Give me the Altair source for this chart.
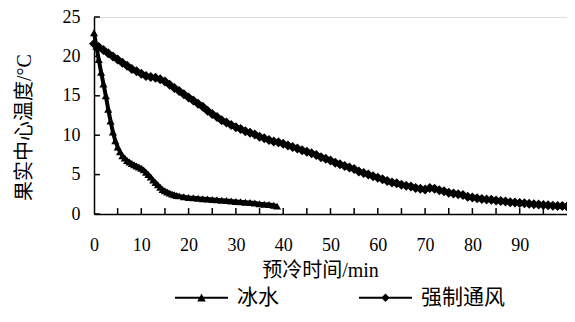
import altair as alt
import pandas as pd

# 冰水 (ice water) series
ice_t = [0, 0.5, 1.0, 1.5, 2.0, 2.5, 3.0, 3.5, 4.0, 4.5, 5.0, 5.5, 6.0, 6.5, 7.0, 7.5, 8.0,
         8.5, 9.0, 9.5, 10, 10.5, 11, 11.5, 12, 12.5, 13, 13.5, 14, 14.5, 15, 15.5, 16, 16.5,
         17, 17.5, 18, 19, 20, 21, 22, 23, 24, 25, 26, 27, 28, 29, 30, 31, 32, 33, 34, 35,
         36, 37, 38, 38.7]
ice_v = [23.0, 21.3, 19.6, 18.0, 16.5, 15.0, 13.3, 11.8, 10.4, 9.3, 8.5, 7.9, 7.4, 7.1, 6.8,
         6.6, 6.4, 6.25, 6.1, 5.95, 5.8, 5.6, 5.3, 5.0, 4.7, 4.3, 4.0, 3.7, 3.4, 3.1, 2.95, 2.8,
         2.65, 2.55, 2.45, 2.35, 2.3, 2.2, 2.1, 2.05, 2.0, 1.95, 1.9, 1.85, 1.8, 1.75, 1.7, 1.65,
         1.6, 1.55, 1.5, 1.45, 1.4, 1.3, 1.25, 1.2, 1.1, 1.0]

# 强制通风 (forced air) series
air_t = list(range(0, 101))
air_v = [21.6, 21.2, 20.8, 20.4, 20.0, 19.6, 19.2, 18.8, 18.4, 18.1,
         17.8, 17.5, 17.4, 17.3, 17.1, 16.8, 16.4, 16.0, 15.6, 15.2,
         14.8, 14.4, 14.0, 13.6, 13.1, 12.7, 12.3, 11.9, 11.6, 11.3,
         11.0, 10.8, 10.5, 10.3, 10.1, 9.8, 9.6, 9.4, 9.2, 9.1,
         8.9, 8.7, 8.5, 8.3, 8.1, 7.9, 7.7, 7.5, 7.2, 7.0,
         6.8, 6.5, 6.3, 6.1, 5.9, 5.7, 5.4, 5.2, 5.0, 4.8,
         4.6, 4.4, 4.2, 4.0, 3.9, 3.7, 3.6, 3.5, 3.3, 3.2,
         3.1, 3.3, 3.2, 3.0, 2.9, 2.7, 2.6, 2.5, 2.4, 2.2,
         2.1, 2.0, 1.9, 1.85, 1.8, 1.7, 1.65, 1.6, 1.5, 1.45,
         1.4, 1.35, 1.3, 1.25, 1.2, 1.15, 1.1, 1.05, 1.0, 1.0, 0.95]

series_names = ["冰水", "强制通风"]
x_label_values = [0, 10, 20, 30, 40, 50, 60, 70, 80, 90]
x_tick_values = [5, 10, 15, 20, 25, 30, 35, 40, 45, 50, 55, 60, 65, 70, 75, 80, 85, 90, 95]
y_tick_values = [0, 5, 10, 15, 20, 25]

ice = pd.DataFrame({"t": ice_t, "v": ice_v, "s": series_names[0]})
air = pd.DataFrame({"t": air_t, "v": air_v, "s": series_names[1]})
both = pd.concat([ice, air], ignore_index=True)

num_font = "Liberation Serif"
cjk_font = "Liberation Serif, Noto Sans CJK SC"

xs = alt.Scale(domain=[0, 100], nice=False)
ys = alt.Scale(domain=[0, 25], nice=False)

x_axis = alt.Axis(
    values=x_label_values, ticks=False, grid=False, title="预冷时间/min",
    labelFont=num_font, labelFontSize=18, labelPadding=22, labelColor="black",
    labelOverlap=False, labelFlush=False,
    titleFont=cjk_font, titleFontSize=20, titleFontWeight="normal", titlePadding=6,
    titleColor="black", titleX=226, domainColor="black", domainWidth=1.5)
y_axis = alt.Axis(
    values=y_tick_values, tickCount=6, ticks=False, grid=False, title="果实中心温度/°C",
    labelFont=num_font, labelFontSize=18, labelPadding=14, labelColor="black",
    labelOverlap=False, labelFlush=False,
    titleFont=cjk_font, titleFontSize=20, titleFontWeight="normal", titlePadding=28,
    titleColor="black", domainColor="black", domainWidth=1.5, titleY=110)


def X(field):
    return alt.X(field, scale=xs, axis=x_axis)


def Y(field):
    return alt.Y(field, scale=ys, axis=y_axis)


lines = alt.Chart(both).mark_line(color="black", strokeWidth=4).encode(
    x=X("t:Q"), y=Y("v:Q"), detail="s:N")

ice_pts = alt.Chart(ice).mark_point(shape="triangle-up", filled=True, color="black",
                                    size=65, opacity=1).encode(x=X("t:Q"), y=Y("v:Q"))
air_pts = alt.Chart(air).mark_point(shape="diamond", filled=True, color="black",
                                    size=100, opacity=1).encode(x=X("t:Q"), y=Y("v:Q"))

# legend symbols: a thin bar with the marker in the middle
tri_path = "M-1,-0.035H1V0.035H-1ZM-0.16,0.14L0,-0.16L0.16,0.14Z"
dia_path = "M-1,-0.035H1V0.035H-1ZM-0.16,0L0,-0.16L0.16,0L0,0.16Z"

legend_layer = alt.Chart(both).mark_point(filled=True, color="black", size=0).encode(
    x=X("t:Q"), y=Y("v:Q"),
    shape=alt.Shape("s:N", scale=alt.Scale(domain=series_names, range=[tri_path, dia_path]),
                    legend=alt.Legend(title=None, orient="none", direction="horizontal",
                                      legendX=81, legendY=254,
                                      symbolSize=2809, symbolStrokeWidth=0,
                                      symbolFillColor="black", symbolOpacity=1,
                                      labelFont=cjk_font, labelFontSize=21, labelColor="black",
                                      labelOffset=9, columnPadding=80)))

xticks_df = pd.DataFrame({"t": x_tick_values, "y0": 0.0, "y1": 0.75})
yticks_df = pd.DataFrame({"v": y_tick_values, "x0": 0.0, "x1": 1.25})
xticks = alt.Chart(xticks_df).mark_rule(color="black", strokeWidth=1.5).encode(
    x=X("t:Q"), y=Y("y0:Q"), y2="y1:Q")
yticks = alt.Chart(yticks_df).mark_rule(color="black", strokeWidth=1.5).encode(
    y=Y("v:Q"), x=X("x0:Q"), x2="x1:Q")

chart = alt.layer(lines, ice_pts, air_pts, legend_layer, xticks, yticks).properties(
    width=473, height=197,
    autosize=alt.AutoSizeParams(type="none"),
    padding={"left": 86, "top": 9, "right": 0, "bottom": 100}
).configure_view(stroke=None).configure_axis(labelOverlap=False).configure(background="white")

chart.save("out.html", embed_options={"renderer": "svg", "actions": False})
